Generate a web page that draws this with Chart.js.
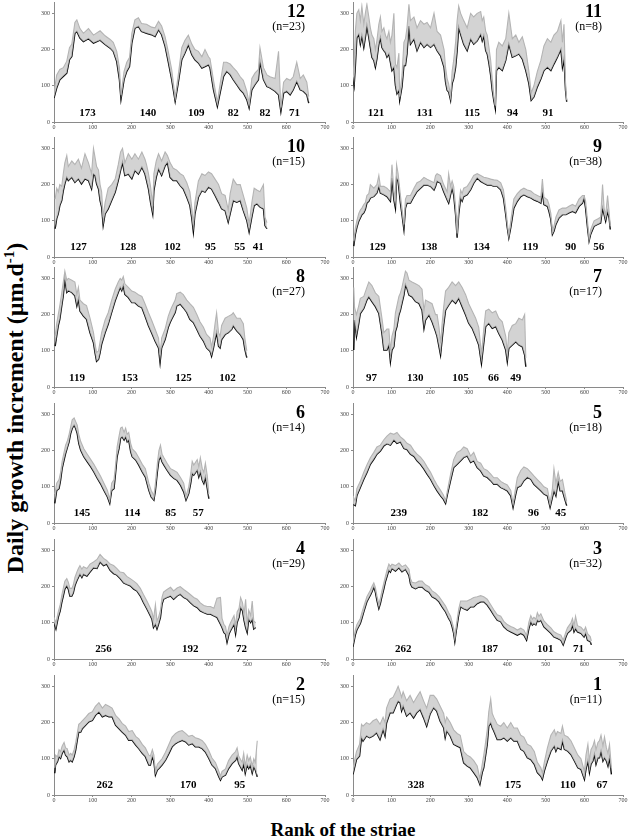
<!DOCTYPE html>
<html lang="en">
<head>
<meta charset="UTF-8">
<title>Daily growth increment by rank of the striae</title>
<script src="https://cdn.jsdelivr.net/npm/chart.js"></script>
<style>
  body { margin: 0; background: #fff; }
  #page { position: relative; width: 631px; height: 838px; overflow: hidden;
          font-family: "Liberation Serif", "Times New Roman", serif; color: #000; }
  canvas { position: absolute; }
  .num { position: absolute; width: 60px; text-align: right; font-weight: bold; font-size: 18px; line-height: 18px; }
  .n { position: absolute; width: 60px; text-align: right; font-size: 12px; line-height: 12px; }
  .seg { position: absolute; font-weight: bold; font-size: 11px; line-height: 11px; white-space: nowrap;
         transform: translate(-50%, -50%); }
  #ytitle { position: absolute; left: 15px; top: 408px; white-space: nowrap; font-weight: bold; font-size: 24px;
            transform: translate(-50%, -50%) rotate(-90deg); }
  #ytitle sup { font-size: 15px; }
  #xtitle { position: absolute; left: 343px; top: 820px; white-space: nowrap; font-weight: bold; font-size: 19px;
            line-height: 19px; transform: translateX(-50%); }
</style>
</head>
<body>
<div id="page">
  <div id="ytitle">Daily growth increment (µm.d<sup>-1</sup>)</div>
  <div id="xtitle">Rank of the striae</div>
</div>
<script>
// ---- panel 12 ----
const rank12 = [0,7,15,24,33,40,46,54,59,67, 76,89,102,119,132,145,153,162,169,173, 181,188,195,201,209,218,226,239,252,261,
  270,278,287,295,304,313,321,330,338,347, 356,364,373,382,390,399,403,412,422,429, 438,446,455,463,472,481,489,498,504,511,
  519,528,532,541,550,558,571,580,586,593, 601,610,618,627,636,644,653,658];
const mean12 = [66,94,117,126,135,172,181,245,250,232, 222,230,218,226,214,204,195,167,117,62, 117,140,153,218,259,264,250,245,241,236,
  255,241,209,167,117,57,108,172,190,213, 186,172,163,149,153,158,149,89,43,80, 126,140,131,117,103,89,80,62,39,89,
  103,117,167,117,98,94,85,75,29,80, 85,75,89,112,89,85,75,52];
const upper12 = [80,130,145,150,168,205,215,275,282,258, 245,258,240,252,238,228,220,195,150,75, 140,165,178,245,282,288,272,270,262,260,
  278,265,235,195,145,68,130,205,225,240, 215,200,195,180,200,180,175,115,55,105, 165,165,160,150,140,125,115,85,52,120,
  135,145,205,150,130,125,120,195,40,110, 120,115,125,165,120,130,110,70];
const seg12 = [173,140,109,82,82,71];

// ---- panel 11 ----
const rank11 = [0,3,6,10,15,19,23,28,32,36, 41,45,49,54,58,62,67,71,75,80, 84,88,93,97,101,106,110,114,119,121,
  127,132,136,140,145,149,158,166,175,184, 192,201,210,218,227,236,240,244,248,253, 257,261,266,270,274,279,287,296,305,313,
  322,331,335,339,344,348,352,357,361,365, 369,372,378,387,396,404,413,422,430,439, 448,456,462,469,478,487,495,504,513,521,
  530,539,543,547,551,554];
const mean11 = [124,101,151,233,242,215,238,206,233,265, 233,206,179,170,151,174,215,233,206,197, 192,179,188,165,142,151,101,78,88,60,
  97,156,156,188,265,215,229,197,220,206, 215,206,215,197,183,151,110,88,83,60, 106,119,151,197,261,242,215,197,229,215,
  224,242,224,238,197,188,165,128,88,60, 37,142,151,142,170,215,179,183,188,174, 142,106,60,69,97,119,142,151,142,160,
  179,201,151,174,88,56];
const upper11 = [130,160,250,300,310,280,320,270,300,325, 290,260,240,230,200,225,270,290,250,260, 240,230,250,220,240,300,160,150,190,70,
  130,220,230,260,325,280,290,260,280,270, 275,260,300,250,240,200,150,120,105,70, 140,170,220,280,320,300,280,260,300,290,
  300,305,280,290,250,240,210,170,120,75, 45,200,220,210,230,300,230,240,220,235, 200,140,80,100,140,170,210,230,220,240,
  250,280,220,270,110,60];
const seg11 = [121,131,115,94,91];

// ---- panel 10 ----
const rank10 = [3,7,11,15,20,24,28,33,37,46, 54,63,71,80,89,97,102,106,110,115, 119,123,127,132,140,149,158,166,172,177,
  183,192,201,209,218,227,235,239,244,250, 255,258,264,270,278,287,293,300,308,317, 326,334,343,351,356,360,364,373,382,390,
  399,407,416,425,433,442,450,455,463,472, 481,489,498,504,511,517,524,532,541,545, 550];
const mean10 = [78,106,119,142,156,183,202,220,211,220, 206,216,202,216,211,188,229,225,202,188, 156,138,87,119,133,156,179,211,239,261,
  225,229,216,239,229,248,229,211,188,147, 119,183,220,243,225,252,261,220,211,211, 197,188,165,142,106,69,119,165,183,179,
  193,188,170,151,133,128,96,119,156,151, 156,128,101,69,110,142,147,138,133,87, 78];
const upper10 = [160,190,180,200,195,230,260,280,250,265, 255,270,245,285,260,230,300,275,250,240, 200,180,110,150,190,200,215,255,290,300,
  260,285,270,285,270,290,270,255,230,190, 140,230,265,285,265,290,280,260,245,240, 230,225,205,180,135,90,150,210,230,225,
  235,230,215,200,175,170,130,175,215,200, 200,170,135,90,150,190,185,180,200,110, 95];
const seg10 = [127,128,102,95,55,41];

// ---- panel 9 ----
const rank9 = [2,6,10,15,19,23,28,32,36,41, 45,54,62,67,71,80,88,97,101,106, 110,113,117,123,127,132,136,140,149,158,
  166,175,184,192,201,210,214,218,227,235, 244,248,253,257,261,266,270,274,279,283, 287,296,305,313,322,331,339,348,357,365,
  374,383,390,396,400,404,409,413,417,426, 435,443,452,461,469,478,487,491,495,504, 508,513,517,521,526,534,543,552,560,569,
  577,586,595,599,603,608,612,616,625,634, 642,647,651,655,660,664,667];
const mean9 = [30,62,81,99,108,117,122,131,149,154, 163,167,177,195,177,172,167,154,218,158, 135,218,209,149,117,76,135,149,149,167,
  181,190,199,199,195,185,195,209,204,181, 158,149,172,190,172,117,53,117,163,154, 167,172,186,204,218,209,204,199,199,195,
  195,186,163,117,81,53,81,108,135,154, 167,172,167,163,158,154,149,181,145,140, 126,103,62,71,90,108,117,117,122,126,
  122,140,149,163,135,81,44,62,85,90, 94,135,117,99,126,108,76];
const upper9 = [45,80,100,120,130,135,145,150,170,175, 200,190,200,225,195,195,190,180,255,185, 160,255,230,170,135,90,160,170,170,190,
  205,210,220,215,210,205,225,230,225,200, 180,230,195,210,195,140,65,140,185,175, 190,195,210,225,230,225,220,218,215,213,
  212,205,185,135,95,60,100,130,160,175, 185,190,185,182,175,170,165,215,165,158, 145,120,70,85,110,130,135,135,140,145,
  140,160,170,170,155,100,50,75,100,105, 110,200,135,115,170,125,85];
const seg9 = [129,138,134,119,90,56];

// ---- panel 8 ----
const rank8 = [3,7,11,15,20,24,28,33,37,46, 54,59,63,67,76,84,93,102,106,110, 115,119,123,132,140,149,158,166,171,175,
  179,183,192,201,209,218,227,235,244,252, 261,270,274,278,287,295,300,304,313,317, 326,334,343,351,360,369,377,386,394,403,
  407,412,416,420,425,429,433,442,450,459, 463,472,481,489,493,498];
const mean8 = [113,141,169,187,224,252,298,261,266,261, 252,224,243,210,196,187,150,122,94,71, 76,94,118,150,173,206,238,261,275,266,
  280,256,247,233,233,224,219,196,169,150, 127,108,67,108,131,164,178,187,206,224, 229,219,206,187,178,159,141,127,108,99,
  85,108,131,150,113,108,131,145,150,159, 169,155,145,131,104,81];
const upper8 = [140,175,200,225,260,290,320,295,300,295, 290,255,275,240,230,225,190,150,120,95, 100,125,150,185,205,240,270,290,300,295,
  305,285,275,265,262,255,250,230,205,185, 160,135,90,135,160,195,210,220,240,258, 262,255,240,230,220,200,180,165,145,135,
  110,140,175,205,150,140,170,190,195,200, 205,190,190,175,135,100];
const seg8 = [119,153,125,102];

// ---- panel 7 ----
const rank7 = [2,4,9,15,19,28,36,41,49,58, 67,75,80,88,93,97,101,106,110,114, 119,123,127,132,136,140,145,153,162,171,
  179,184,188,197,205,214,218,223,227,231, 235,240,248,257,266,274,283,292,300,309, 318,326,333,339,344,352,361,370,378,387,
  396,400,404,413,422,430,439,445,448];
const mean7 = [102,185,139,176,203,217,240,249,236,222, 203,148,102,102,116,70,102,111,153,167, 199,212,231,254,282,272,254,249,236,231,
  212,162,185,199,180,153,139,111,88,130, 171,212,226,240,231,245,222,199,176,162, 139,116,65,121,167,176,162,167,148,130,
  102,70,107,116,125,116,111,88,56];
const upper7 = [275,220,200,225,245,250,275,290,280,260, 250,190,150,160,160,100,140,160,205,225, 250,260,275,300,320,315,295,290,285,280,
  270,210,240,235,230,200,200,165,120,175, 220,265,275,290,280,290,275,255,230,210, 190,165,90,160,210,215,205,210,190,180,
  140,95,150,170,175,190,185,200,80];
const seg7 = [97,130,105,66,49];

// ---- panel 6 ----
const rank6 = [2,7,13,17,21,26,30,34,39,43, 47,52,56,60,64,69,77,86,95,103, 112,120,129,138,144,149,155,159,163,168,
  172,176,181,185,189,193,198,202,211,219, 228,236,245,251,258,262,267,271,275,279, 284,292,301,310,318,327,335,341,348,353,
  357,361,370,374,378,383,387,391,396,400];
const mean6 = [54,90,95,118,150,174,192,206,224,247, 261,270,261,247,220,201,183,169,155,141, 123,109,90,72,54,90,95,137,183,206,
  234,238,229,238,224,229,197,183,174,160, 141,127,90,72,63,90,141,174,183,169, 160,146,132,123,118,104,86,63,81,109,
  137,132,146,127,141,118,109,127,95,67];
const upper6 = [80,110,120,140,170,195,215,225,245,265, 285,290,280,270,245,225,205,190,175,162, 145,130,110,90,65,110,120,160,210,240,
  262,265,250,262,245,250,220,205,195,180, 162,150,110,90,75,110,165,200,215,190, 180,165,150,145,140,125,110,75,100,135,
  170,160,175,155,180,150,140,165,130,80];
const seg6 = [145,114,85,57];

// ---- panel 5 ----
const rank5 = [0,6,10,19,28,36,45,54,62,71, 80,88,97,106,114,123,132,140,149,158, 166,175,184,192,201,210,218,227,234,240,
  244,253,261,270,279,287,296,305,313,322, 331,339,348,357,365,374,383,391,400,409, 415,422,426,435,443,452,461,469,478,487,
  495,504,511,517,521,526,532,537,543,549, 554];
const mean5 = [52,48,75,98,121,139,162,176,190,199, 213,219,215,229,220,224,206,203,190,184, 172,162,149,135,121,103,89,75,66,54,
  75,117,153,162,172,181,185,167,172,153, 144,130,126,117,107,107,98,94,89,75, 43,80,98,103,117,126,121,107,98,89,
  80,75,43,71,89,75,117,89,89,66, 48];
const upper5 = [75,60,95,115,140,160,180,195,210,215, 230,240,248,245,250,238,230,220,215,200, 190,182,170,155,140,120,105,90,78,62,
  85,135,175,195,200,210,205,185,195,170, 165,150,145,135,125,125,115,110,105,90, 55,100,125,145,155,150,140,130,120,110,
  100,95,55,95,150,110,140,115,120,85, 60];
const seg5 = [239,182,96,45];

// ---- panel 4 ----
const rank4 = [0,5,11,16,20,24,28,33,37,41, 46,50,54,59,63,67,72,76,85,93, 102,111,119,128,136,145,154,162,171,180,
  188,197,206,214,223,231,240,249,253,257, 262,266,270,275,279,283,292,301,309,318, 326,335,344,352,361,370,378,387,396,404,
  413,421,430,434,439,443,447,452,456,465, 469,473,478,482,487,491,495,499,503,508, 512,516,521];
const mean4 = [101,83,115,133,156,174,193,202,193,174, 174,183,202,216,225,234,225,234,229,240, 252,250,268,258,262,245,236,232,222,210,
  206,202,193,188,174,156,138,119,110,87, 96,83,96,115,151,165,170,174,165,174, 179,170,165,156,147,142,133,128,124,124,
  119,115,96,87,73,69,46,69,78,96, 69,101,115,142,133,106,87,73,110,101, 110,83,87];
const upper4 = [115,100,130,150,175,195,215,222,212,195, 195,205,225,240,250,258,248,255,250,262, 268,275,289,278,272,262,258,250,240,238,
  228,222,215,208,195,178,160,140,130,110, 150,105,115,135,170,185,192,198,188,196, 200,192,185,178,170,165,155,148,145,145,
  140,168,170,112,95,90,65,90,100,120, 92,130,140,170,155,125,165,95,135,120, 160,105,100];
const seg4 = [256,192,72];

// ---- panel 3 ----
const rank3 = [0,6,10,19,23,28,36,45,49,54, 58,62,67,71,75,80,84,88,93,97, 101,110,119,127,136,145,149,153,162,171,
  179,188,197,205,214,223,231,240,248,253, 257,261,264,268,274,279,287,296,305,313, 322,331,339,348,357,365,374,383,391,400,
  409,417,426,435,443,450,456,461,465,469, 474,478,482,487,491,495,504,513,521,530, 539,545,552,556,565,569,573,577,582,591,
  599,603,608,615,618];
const mean3 = [34,66,80,98,112,130,158,176,185,199, 185,162,139,153,172,194,213,227,245,240, 250,243,252,241,248,231,208,199,194,199,
  199,190,185,172,167,158,144,130,112,103, 89,71,48,80,121,144,139,135,144,144, 153,158,158,149,135,121,107,103,89,80,
  75,71,66,71,66,52,84,103,94,98, 94,107,103,107,98,89,80,71,61,57, 52,39,61,71,80,94,75,84,75,71,
  61,71,52,48,39];
const upper3 = [45,80,95,112,128,145,172,190,200,210, 198,175,152,168,188,210,228,245,262,255, 262,258,265,255,260,248,222,212,210,215,
  215,205,200,188,182,172,160,146,128,118, 102,85,60,95,138,160,160,160,165,170, 172,175,172,165,150,136,122,118,104,95,
  90,86,80,85,80,65,102,120,110,115, 110,128,118,125,115,105,95,86,75,70, 66,52,75,86,100,112,92,118,92,88,
  78,88,70,62,50];
const seg3 = [262,187,101,71];

// ---- panel 2 ----
const rank2 = [2,4,9,13,17,21,26,30,34,39, 43,47,52,56,60,64,69,73,82,90, 99,107,116,125,133,142,150,159,168,176,
  185,193,202,211,219,228,236,245,249,254, 258,262,267,271,279,288,297,305,314,322, 331,340,348,357,365,374,383,391,400,408,
  417,426,430,434,443,451,460,469,473,477, 486,490,494,499,503,507,512,516,520,525];
const mean2 = [60,83,92,106,101,115,124,110,106,92, 96,92,106,124,151,174,174,183,193,202, 206,220,229,216,220,216,216,193,183,174,
  165,151,151,138,128,115,106,83,83,106, 92,55,69,73,83,96,115,133,142,147, 151,147,138,142,133,133,128,119,101,83,
  73,50,41,50,55,73,87,96,106,87, 69,87,60,83,73,83,60,78,69,50];
const upper2 = [75,110,105,125,120,135,145,130,128,110, 115,110,125,145,170,195,200,205,215,225, 230,245,255,240,250,245,240,220,210,198,
  190,175,178,162,155,140,130,110,108,125, 110,65,85,90,100,118,140,160,170,175, 178,170,162,165,158,155,150,140,122,102,
  90,65,52,65,72,95,110,120,130,108, 90,115,80,110,95,105,80,100,90,150];
const seg2 = [262,170,95];

// ---- panel 1 ----
const rank1 = [0,4,9,13,17,22,26,35,43,52, 61,70,78,83,87,96,104,113,117,122, 126,130,139,148,157,165,174,183,191,200,
  209,217,226,235,239,243,252,261,270,278, 287,296,304,313,322,329,335,339,343,348, 352,357,361,365,374,383,391,400,409,417,
  426,435,443,452,461,470,478,487,491,496, 504,513,522,526,530,539,543,548,557,565, 574,583,591,600,604,609,613,617,622,626,
  630,635,639,643,648,652,657,661,665,670];
const mean1 = [57,75,98,103,108,158,149,163,158,163, 172,153,181,163,199,227,227,250,259,255, 232,245,218,227,213,227,236,213,190,224,
  241,232,204,186,158,177,163,140,135,131, 89,80,75,62,48,29,62,75,103,140, 190,199,186,177,153,153,158,149,158,149,
  149,126,121,103,98,85,62,52,43,66, 94,121,135,121,131,126,149,126,121,112, 94,75,71,43,71,94,62,85,94,112,
  85,103,103,121,94,103,94,80,103,57];
const upper1 = [70,95,120,130,140,195,190,200,195,205, 210,195,215,200,240,265,270,290,300,285, 270,285,260,275,255,270,285,260,240,275,
  275,265,245,225,200,215,200,180,170,165, 120,110,105,95,80,45,85,110,140,180, 230,265,225,215,195,190,200,185,200,185,
  185,165,160,140,135,120,90,75,60,90, 130,165,180,165,175,170,190,165,160,150, 130,110,100,65,110,140,95,125,135,150,
  125,145,150,165,135,160,130,115,140,75];
const seg1 = [328,175,110,67];

// ---- layout ----
const rowAxis = [122, 256.5, 387.3, 522.6, 658.5, 794.6];   // pixel y of each row's x axis
const colPlotLeft = [54, 352.7];
const colTitleRight = [305, 602];
const Y_SCALE_W = 24, X_SCALE_H = 12, CANVAS_W = 300, CANVAS_H = 138, PAD_TOP = 6.5;

const panels = [
  { label: '12', n: '(n=23)', col: 0, row: 0, rank: rank12, mean: mean12, upper: upper12, seg: seg12 },
  { label: '11', n: '(n=8)',  col: 1, row: 0, rank: rank11, mean: mean11, upper: upper11, seg: seg11 },
  { label: '10', n: '(n=15)', col: 0, row: 1, rank: rank10, mean: mean10, upper: upper10, seg: seg10 },
  { label: '9',  n: '(n=38)', col: 1, row: 1, rank: rank9,  mean: mean9,  upper: upper9,  seg: seg9 },
  { label: '8',  n: '(n=27)', col: 0, row: 2, rank: rank8,  mean: mean8,  upper: upper8,  seg: seg8 },
  { label: '7',  n: '(n=17)', col: 1, row: 2, rank: rank7,  mean: mean7,  upper: upper7,  seg: seg7 },
  { label: '6',  n: '(n=14)', col: 0, row: 3, rank: rank6,  mean: mean6,  upper: upper6,  seg: seg6 },
  { label: '5',  n: '(n=18)', col: 1, row: 3, rank: rank5,  mean: mean5,  upper: upper5,  seg: seg5 },
  { label: '4',  n: '(n=29)', col: 0, row: 4, rank: rank4,  mean: mean4,  upper: upper4,  seg: seg4 },
  { label: '3',  n: '(n=32)', col: 1, row: 4, rank: rank3,  mean: mean3,  upper: upper3,  seg: seg3 },
  { label: '2',  n: '(n=15)', col: 0, row: 5, rank: rank2,  mean: mean2,  upper: upper2,  seg: seg2 },
  { label: '1',  n: '(n=11)', col: 1, row: 5, rank: rank1,  mean: mean1,  upper: upper1,  seg: seg1 }
];

const page = document.getElementById('page');
const FONT = '"Liberation Serif", "Times New Roman", serif';
const axisColor = '#8a8a8a';
const tickFont = { family: FONT, size: 6 };

function addDiv(cls, text, left, top) {
  const d = document.createElement('div');
  d.className = cls;
  d.textContent = text;
  d.style.left = left + 'px';
  d.style.top = top + 'px';
  page.appendChild(d);
  return d;
}

panels.forEach(p => {
  const axisY = rowAxis[p.row];
  const left = colPlotLeft[p.col] - Y_SCALE_W;
  const top = axisY - (CANVAS_H - X_SCALE_H);
  const cv = document.createElement('canvas');
  cv.width = CANVAS_W; cv.height = CANVAS_H;
  cv.style.left = left + 'px';
  cv.style.top = top + 'px';
  page.appendChild(cv);

  const toPts = vals => p.rank.map((r, i) => ({ x: r, y: vals[i] }));

  const chart = new Chart(cv.getContext('2d'), {
    type: 'line',
    data: {
      datasets: [
        // upper envelope (grey), shaded down to the mean curve
        { data: toPts(p.upper), borderColor: '#b4b4b4', borderWidth: 1.1, pointRadius: 0, tension: 0,
          fill: '+1', backgroundColor: 'rgba(200,200,200,0.8)' },
        { data: toPts(p.mean), borderColor: '#000000', borderWidth: 1.4, pointRadius: 0, tension: 0, fill: false }
      ]
    },
    options: {
      responsive: false,
      animation: false,
      events: [],
      layout: { padding: { top: PAD_TOP, right: p.col === 0 ? 5 : 6, left: 0, bottom: 0 } },
      plugins: { legend: { display: false }, tooltip: { enabled: false } },
      scales: {
        x: {
          type: 'linear', min: 0, max: 700,
          ticks: { stepSize: 100, font: tickFont, color: '#444', padding: 0, maxRotation: 0, autoSkip: false },
          grid: { drawOnChartArea: false, tickLength: 2, color: axisColor },
          border: { color: axisColor },
          afterFit: s => { s.height = X_SCALE_H; s.paddingLeft = 0; s.paddingRight = 0; }
        },
        y: {
          min: 0, max: 330,
          ticks: { stepSize: 100, includeBounds: false, font: tickFont, color: '#444', padding: 2 },
          grid: { drawOnChartArea: false, tickLength: 2, color: axisColor },
          border: { color: axisColor },
          afterFit: s => { s.width = Y_SCALE_W; s.paddingTop = 0; s.paddingBottom = 0; }
        }
      }
    }
  });

  // panel number and sample size
  const right = colTitleRight[p.col];
  addDiv('num', p.label, right - 60, axisY - 120);
  addDiv('n', p.n, right - 60, axisY - 102);

  // segment lengths, centred on each segment through the chart's scales
  let start = 0;
  p.seg.forEach(len => {
    const cx = chart.scales.x.getPixelForValue(start + len / 2);
    const cy = chart.scales.y.getPixelForValue(28);
    addDiv('seg', String(len), left + cx, top + cy);
    start += len;
  });
});
</script>
</body>
</html>
